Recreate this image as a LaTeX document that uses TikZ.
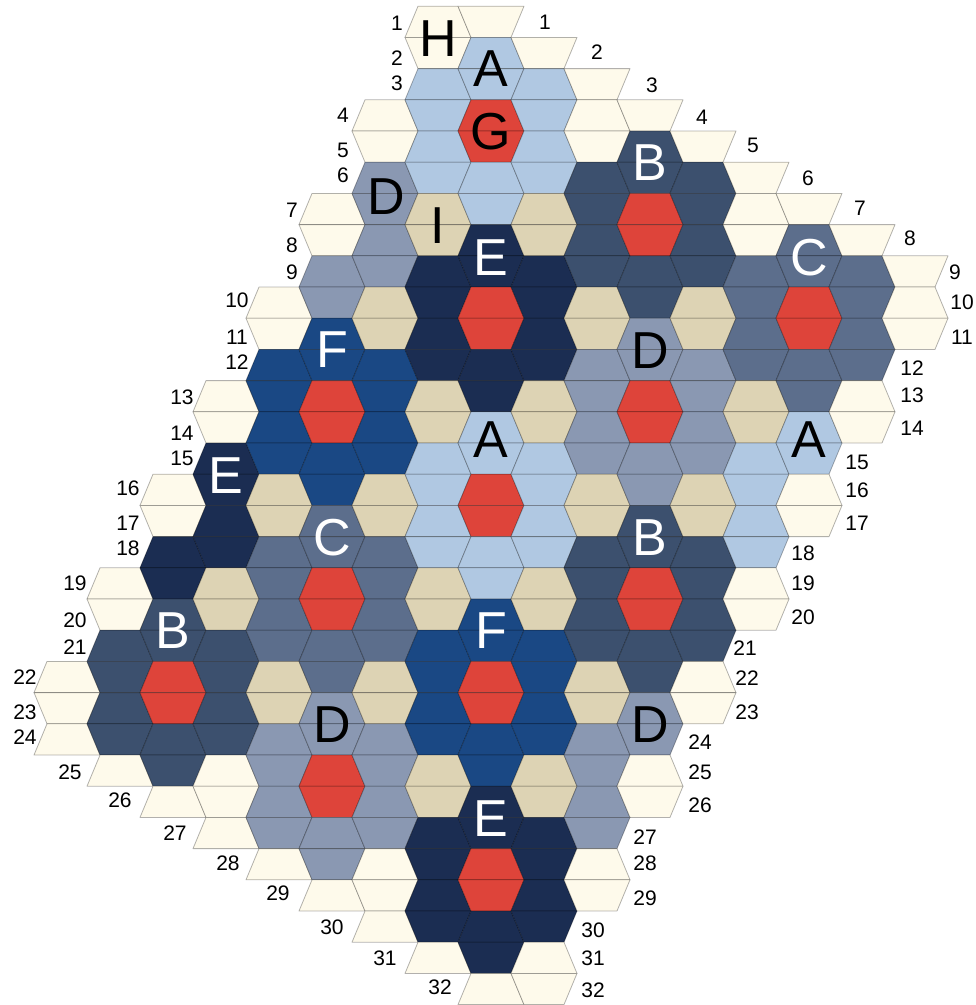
\documentclass[tikz,border=0pt]{standalone}
\usepackage{fontspec}
\setmainfont{Liberation Sans}
\definecolor{colW}{RGB}{254,250,235}
\definecolor{colT}{RGB}{221,211,180}
\definecolor{colR}{RGB}{222,68,58}
\definecolor{colA}{RGB}{176,200,226}
\definecolor{colB}{RGB}{60,80,110}
\definecolor{colC}{RGB}{92,110,140}
\definecolor{colD}{RGB}{138,152,178}
\definecolor{colE}{RGB}{27,45,82}
\definecolor{colF}{RGB}{26,72,132}
\tikzset{
  piece/.style={draw=black, draw opacity=0.3, line width=0.8pt, line join=round},
  bigdark/.style={font=\fontsize{52}{52}\selectfont, text=black, inner sep=0pt},
  biglight/.style={font=\fontsize{52}{52}\selectfont, text=white, inner sep=0pt},
  rowlab/.style={font=\fontsize{21}{21}\selectfont, text=black, inner sep=0pt}
}
\newcommand\hexband[3]{%
  \foreach \hcol [count=\kk from 0] in {#3} {
    \pgfmathtruncatemacro\jj{#2+\kk}
    \pgfmathsetmacro\xc{491+53*\jj}
    \pgfmathsetmacro\yt{6.2+31.2*(#1-1)}
    \pgfmathsetmacro\yb{\yt+31.2}
    \pgfmathtruncatemacro\pp{mod(abs(#1-\jj),2)}
    \ifnum\pp=0
      \path[piece, fill=col\hcol] ({\xc-20},\yt) -- ({\xc+20},\yt) -- ({\xc+33},\yb) -- ({\xc-33},\yb) -- cycle;
    \else
      \path[piece, fill=col\hcol] ({\xc-33},\yt) -- ({\xc+33},\yt) -- ({\xc+20},\yb) -- ({\xc-20},\yb) -- cycle;
    \fi
  }%
}
\begin{document}
\begin{tikzpicture}[x=1pt,y=-1pt]
\useasboundingbox (0,0) rectangle (976,1005);
\hexband{1}{-1}{W,W}
\hexband{2}{-1}{W,A,W}
\hexband{3}{-1}{A,A,A,W}
\hexband{4}{-2}{W,A,R,A,W,W}
\hexband{5}{-2}{W,A,R,A,W,B,W}
\hexband{6}{-2}{D,A,A,A,B,B,B,W}
\hexband{7}{-3}{W,D,T,A,T,B,R,B,W,W}
\hexband{8}{-3}{W,D,T,E,T,B,R,B,W,C,W}
\hexband{9}{-3}{D,D,E,E,E,B,B,B,C,C,C,W}
\hexband{10}{-4}{W,D,T,E,R,E,T,B,T,C,R,C,W}
\hexband{11}{-4}{W,F,T,E,R,E,T,D,T,C,R,C,W}
\hexband{12}{-4}{F,F,F,E,E,E,D,D,D,C,C,C}
\hexband{13}{-5}{W,F,R,F,T,E,T,D,R,D,T,C,W}
\hexband{14}{-5}{W,F,R,F,T,A,T,D,R,D,T,A,W}
\hexband{15}{-5}{E,F,F,F,A,A,A,D,D,D,A,A}
\hexband{16}{-6}{W,E,T,F,T,A,R,A,T,D,T,A,W}
\hexband{17}{-6}{W,E,T,C,T,A,R,A,T,B,T,A,W}
\hexband{18}{-6}{E,E,C,C,C,A,A,A,B,B,B,A}
\hexband{19}{-7}{W,E,T,C,R,C,T,A,T,B,R,B,W}
\hexband{20}{-7}{W,B,T,C,R,C,T,F,T,B,R,B,W}
\hexband{21}{-7}{B,B,B,C,C,C,F,F,F,B,B,B}
\hexband{22}{-8}{W,B,R,B,T,C,T,F,R,F,T,B,W}
\hexband{23}{-8}{W,B,R,B,T,D,T,F,R,F,T,D,W}
\hexband{24}{-8}{W,B,B,B,D,D,D,F,F,F,D,D}
\hexband{25}{-7}{W,B,W,D,R,D,T,F,T,D,W}
\hexband{26}{-6}{W,W,D,R,D,T,E,T,D,W}
\hexband{27}{-5}{W,D,D,D,E,E,E,D}
\hexband{28}{-4}{W,D,W,E,R,E,W}
\hexband{29}{-3}{W,W,E,R,E,W}
\hexband{30}{-2}{W,E,E,E}
\hexband{31}{-1}{W,E,W}
\hexband{32}{0}{W,W}
% letters
\node[bigdark]  (lH)  at (438,38.5)  {H};
\node[bigdark]  (lA1) at (491,68.6)  {A};
\node[bigdark]  (lG)  at (491,132)   {G};
\node[biglight] (lB1) at (650,163) {B};
\node[bigdark]  (lD0) at (386,197) {D};
\node[bigdark]  (lI)  at (438,226) {I};
\node[biglight] (lE1) at (491,257.5) {E};
\node[biglight] (lC1) at (809,257.5) {C};
\node[biglight] (lF1) at (332,349.4) {F};
\node[bigdark]  (lD1) at (650,351) {D};
\node[bigdark]  (lA2) at (491,440)   {A};
\node[bigdark]  (lA3) at (809,440)   {A};
\node[biglight] (lE0) at (226,476) {E};
\node[biglight] (lC2) at (332,538) {C};
\node[biglight] (lB2) at (650,538) {B};
\node[biglight] (lB3) at (173,630.2) {B};
\node[biglight] (lF2) at (491,630.2) {F};
\node[bigdark]  (lD2) at (332,725) {D};
\node[bigdark]  (lD3) at (650,725) {D};
\node[biglight] (lE2) at (491,819) {E};
% row numbers, left
\foreach \n/\x/\y in {1/397/23,2/397/58,3/397/83,4/343/115,5/343/150,6/343/175,
  7/292/210,8/292/245,9/292/272,10/237/300,11/237/337,12/237/362,
  13/182/397,14/182/433,15/182/458,16/128/488,17/128/523,18/128/548,
  19/75/583,20/75/620,21/75/647,22/25/677,23/25/712,24/25/737,
  25/70/772,26/120/800,27/175/833,28/228/863,29/278/893,30/332/927,
  31/385/958,32/440/987}
  \node[rowlab] (L\n) at (\x,\y) {\n};
% row numbers, right
\foreach \n/\x/\y in {1/545/22,2/597/52,3/652/85,4/702/117,5/753/145,6/808/178,
  7/860/208,8/910/238,9/955/272,10/962/302,11/962/337,12/912/368,
  13/912/395,14/912/428,15/857/462,16/857/490,17/857/523,18/803/553,
  19/803/583,20/803/617,21/745/648,22/747/678,23/747/712,24/700/742,
  25/700/772,26/700/805,27/645/837,28/645/863,29/645/898,30/593/930,
  31/593/958,32/593/990}
  \node[rowlab] (R\n) at (\x,\y) {\n};
\end{tikzpicture}
\end{document}
